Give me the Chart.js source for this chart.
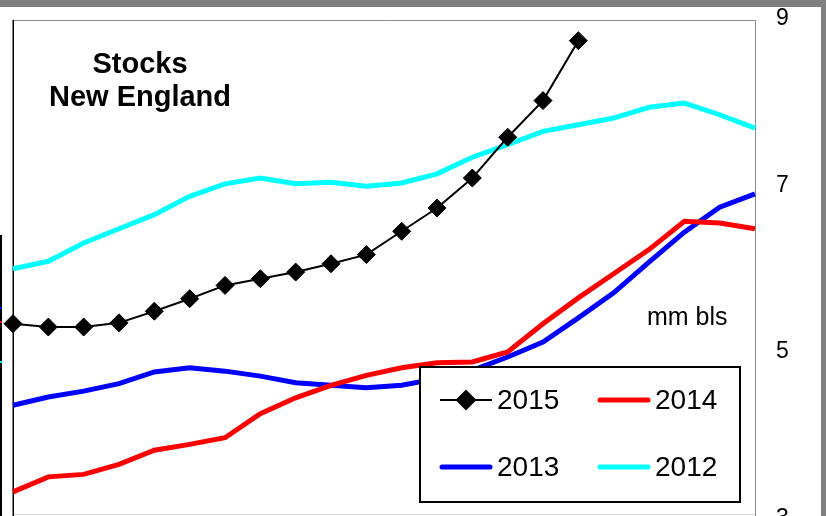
<!DOCTYPE html>
<html><head><meta charset="utf-8">
<script src="https://cdn.jsdelivr.net/npm/chart.js@4.4.0/dist/chart.umd.min.js"></script>
<style>
html,body{margin:0;padding:0;overflow:hidden;background:#808080;width:826px;height:516px}
#wrap{position:absolute;left:0;top:0;width:826px;height:540px}
</style></head><body><div id="wrap"><canvas id="c" width="826" height="540"></canvas></div>
<script>
const weeks = ["W1","W2","W3","W4","W5","W6","W7","W8","W9","W10","W11","W12","W13","W14","W15","W16","W17","W18","W19","W20","W21","W22"];
const stocks2015 = [5.34,5.30,5.30,5.35,5.49,5.64,5.80,5.88,5.96,6.06,6.17,6.45,6.73,7.09,7.58,8.02,8.74,null,null,null,null,null];
const stocks2014 = [3.32,3.50,3.53,3.65,3.82,3.89,3.97,4.26,4.45,4.60,4.72,4.81,4.87,4.88,5.00,5.34,5.65,5.94,6.23,6.57,6.55,6.48];
const stocks2013 = [4.36,4.46,4.53,4.62,4.76,4.81,4.77,4.71,4.63,4.60,4.57,4.60,4.68,4.78,4.94,5.12,5.41,5.71,6.08,6.44,6.74,6.90];
const stocks2012 = [6.00,6.09,6.31,6.48,6.65,6.87,7.02,7.09,7.02,7.04,6.99,7.03,7.14,7.34,7.49,7.65,7.73,7.81,7.94,7.99,7.85,7.69];
const yTicks = [3,5,7,9];
const titleLines = ["Stocks","New England"];
const unitLabel = "mm bls";

const FONT = '"Liberation Sans", Arial, sans-serif';

const bgPlugin = {
  id:'bg',
  beforeDraw(chart){
    const ctx = chart.ctx;
    ctx.save();
    ctx.fillStyle = '#808080';
    ctx.fillRect(0,0,chart.width,chart.height);
    ctx.fillStyle = '#ffffff';
    ctx.fillRect(0,7,821,chart.height-7);
    ctx.restore();
  },
  beforeDatasetsDraw(chart){
    const ctx = chart.ctx, a = chart.chartArea;
    ctx.save();
    ctx.fillStyle = '#000';
    ctx.fillRect(0,235,2,chart.height-235);
    ctx.fillStyle = '#0000ff'; ctx.fillRect(0,307,2,2);
    ctx.fillStyle = '#ff0000'; ctx.fillRect(0,321,2,2);
    ctx.fillStyle = '#00ffff'; ctx.fillRect(0,361,2,2);
    ctx.strokeStyle = '#d8d8d8'; ctx.lineWidth = 1;
    ctx.beginPath(); ctx.moveTo(a.left,514.5); ctx.lineTo(a.right,514.5); ctx.stroke();
    ctx.strokeStyle = '#8c8c8c'; ctx.lineWidth = 1;
    ctx.beginPath(); ctx.moveTo(a.left,20.5); ctx.lineTo(a.right+0.5,20.5); ctx.lineTo(a.right+0.5,chart.height); ctx.stroke();
    ctx.strokeStyle = '#000'; ctx.lineWidth = 1.5;
    ctx.beginPath(); ctx.moveTo(a.left+0.25,20); ctx.lineTo(a.left+0.25,chart.height); ctx.stroke();
    ctx.restore();
  },
  afterDatasetsDraw(chart){
    const ctx = chart.ctx;
    ctx.save();
    ctx.fillStyle = '#000';
    ctx.font = 'bold 29px ' + FONT;
    ctx.textAlign = 'center'; ctx.textBaseline = 'alphabetic';
    ctx.fillText(titleLines[0],140,73);
    ctx.fillText(titleLines[1],140,106);
    ctx.font = '25px ' + FONT;
    ctx.textAlign = 'left';
    ctx.fillText(unitLabel,647,325);
    const bx=420, by=367, bw=320, bh=135;
    ctx.fillStyle = '#fff';
    ctx.fillRect(bx,by,bw,bh);
    ctx.strokeStyle = '#000'; ctx.lineWidth = 2;
    ctx.strokeRect(bx,by,bw,bh);
    const pos = [[440,400],[598,400],[440,467],[598,467]];
    chart.data.datasets.forEach((ds,i)=>{
      const [x,y] = pos[i];
      ctx.strokeStyle = ds.borderColor;
      ctx.lineWidth = ds.borderWidth;
      const thick = ds.borderWidth > 3;
      ctx.lineCap = thick ? 'round' : 'butt';
      ctx.beginPath(); ctx.moveTo(x+(thick?2:0),y); ctx.lineTo(x+52-(thick?2:0),y); ctx.stroke();
      if (ds.pointRadius > 0) {
        ctx.fillStyle = '#000';
        Chart.helpers.drawPoint(ctx,{pointStyle:'rectRot',radius:ds.pointRadius,borderWidth:1},x+26,y);
      }
      ctx.fillStyle = '#000';
      ctx.font = '28px ' + FONT;
      ctx.textAlign = 'left'; ctx.textBaseline = 'middle';
      ctx.fillText(ds.label,x+57,y+1);
    });
    ctx.restore();
  }
};

new Chart(document.getElementById('c'),{
  type:'line',
  data:{
    labels:weeks,
    datasets:[
      {label:'2015',data:stocks2015,borderColor:'#000000',backgroundColor:'#000000',borderWidth:2,pointStyle:'rectRot',pointRadius:9,pointHoverRadius:9,pointBackgroundColor:'#000',pointBorderColor:'#000',pointBorderWidth:1,tension:0,spanGaps:false},
      {label:'2014',data:stocks2014,borderColor:'#ff0000',borderWidth:5,pointRadius:0,tension:0},
      {label:'2013',data:stocks2013,borderColor:'#0000ff',borderWidth:5,pointRadius:0,tension:0},
      {label:'2012',data:stocks2012,borderColor:'#00ffff',borderWidth:5,pointRadius:0,tension:0}
    ]
  },
  options:{
    responsive:false,
    animation:false,
    devicePixelRatio:1,
    layout:{padding:{left:13,top:19,bottom:21.5,right:0}},
    plugins:{legend:{display:false},title:{display:false},tooltip:{enabled:false}},
    scales:{
      x:{type:'category',offset:false,display:false},
      y:{
        position:'right',min:3,max:9,
        afterFit(s){s.width=71;},
        afterBuildTicks(s){s.ticks = yTicks.map(v=>({value:v}));},
        grid:{display:false,drawTicks:true,tickLength:21},
        border:{display:false},
        ticks:{padding:0,color:'#000',font:{family:FONT,size:23}}
      }
    }
  },
  plugins:[bgPlugin]
});
</script></body></html>
